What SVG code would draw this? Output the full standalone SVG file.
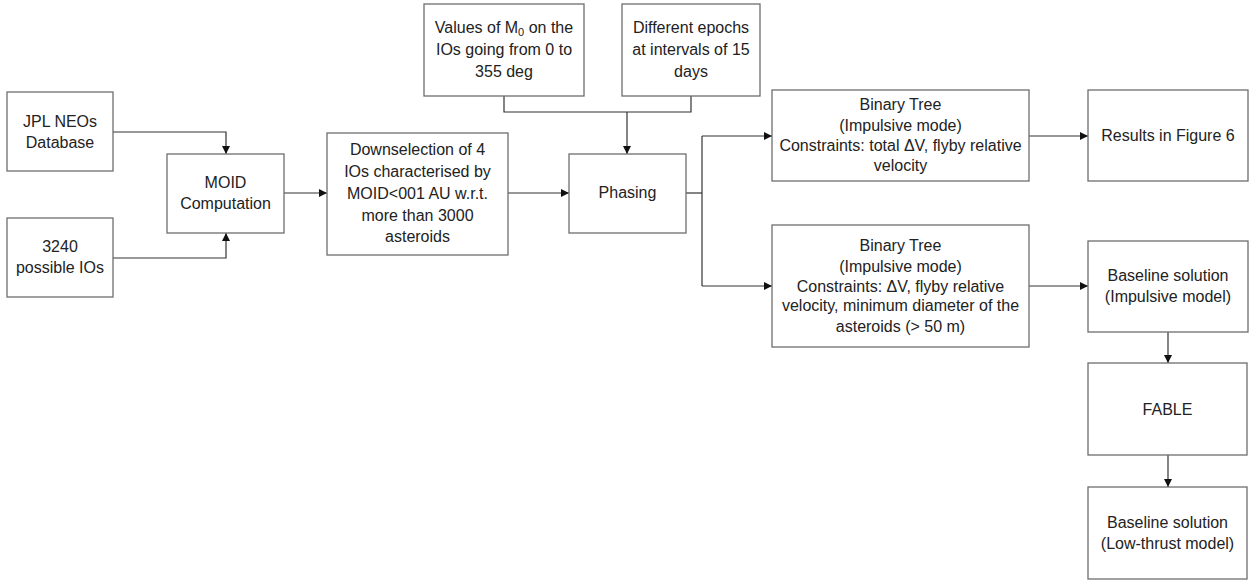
<svg xmlns="http://www.w3.org/2000/svg" width="1252" height="581" viewBox="0 0 1252 581">
<style>
.box{fill:#fff;stroke:#6e6e6e;stroke-width:1.3}
.t{font-family:"Liberation Sans",Arial,sans-serif;font-size:16px;fill:#222;text-anchor:middle}
.c{fill:none;stroke:#333;stroke-width:1.2}
</style>
<defs>
<marker id="ah" viewBox="0 0 10 10" refX="10" refY="5" markerWidth="8" markerHeight="8" markerUnits="userSpaceOnUse" orient="auto">
<path d="M0,0 L10,5 L0,10 Z" fill="#111"/>
</marker>
</defs>
<rect width="1252" height="581" fill="#fff"/>
<g id="connectors">
<path class="c" d="M113,132 H226 V154" marker-end="url(#ah)"/>
<path class="c" d="M113,258 H226 V233" marker-end="url(#ah)"/>
<path class="c" d="M284,193 H327" marker-end="url(#ah)"/>
<path class="c" d="M508,193 H569" marker-end="url(#ah)"/>
<path class="c" d="M504,96 V112 H691 V96"/>
<path class="c" d="M627,112 V154" marker-end="url(#ah)"/>
<path class="c" d="M686,193 H702"/>
<path class="c" d="M702,136 V286"/>
<path class="c" d="M702,136 H772" marker-end="url(#ah)"/>
<path class="c" d="M702,286 H772" marker-end="url(#ah)"/>
<path class="c" d="M1029,136 H1088" marker-end="url(#ah)"/>
<path class="c" d="M1029,286 H1088" marker-end="url(#ah)"/>
<path class="c" d="M1168,332 V363" marker-end="url(#ah)"/>
<path class="c" d="M1168,455 V487" marker-end="url(#ah)"/>
</g>
<g id="jpl">
<rect class="box" x="7" y="92" width="106" height="79"/>
<text class="t" x="60" y="127">JPL NEOs</text>
<text class="t" x="60" y="148">Database</text>
</g>
<g id="ios3240">
<rect class="box" x="7" y="218" width="106" height="79"/>
<text class="t" x="60" y="252">3240</text>
<text class="t" x="60" y="273">possible IOs</text>
</g>
<g id="moid">
<rect class="box" x="167" y="154" width="117" height="79"/>
<text class="t" x="225.5" y="188">MOID</text>
<text class="t" x="225.5" y="209">Computation</text>
</g>
<g id="downselection">
<rect class="box" x="327" y="133" width="181" height="122"/>
<text class="t" x="417.5" y="155">Downselection of 4</text>
<text class="t" x="417.5" y="177">IOs characterised by</text>
<text class="t" x="417.5" y="199">MOID&lt;001 AU w.r.t.</text>
<text class="t" x="417.5" y="221">more than 3000</text>
<text class="t" x="417.5" y="242">asteroids</text>
</g>
<g id="values">
<rect class="box" x="424" y="4" width="160" height="92"/>
<text class="t" x="504" y="33">Values of M<tspan font-size="11" dy="3">0</tspan><tspan dy="-3"> on the</tspan></text>
<text class="t" x="504" y="55">IOs going from 0 to</text>
<text class="t" x="504" y="77">355 deg</text>
</g>
<g id="epochs">
<rect class="box" x="622" y="4" width="138" height="92"/>
<text class="t" x="691" y="33">Different epochs</text>
<text class="t" x="691" y="55">at intervals of 15</text>
<text class="t" x="691" y="77">days</text>
</g>
<g id="phasing">
<rect class="box" x="569" y="154" width="117" height="79"/>
<text class="t" x="627.5" y="198">Phasing</text>
</g>
<g id="bt1">
<rect class="box" x="772" y="90" width="257" height="91"/>
<text class="t" x="900.5" y="110">Binary Tree</text>
<text class="t" x="900.5" y="131">(Impulsive mode)</text>
<text class="t" x="900.5" y="151">Constraints: total ΔV, flyby relative</text>
<text class="t" x="900.5" y="171">velocity</text>
</g>
<g id="results">
<rect class="box" x="1088" y="90" width="160" height="91"/>
<text class="t" x="1168" y="141">Results in Figure 6</text>
</g>
<g id="bt2">
<rect class="box" x="772" y="225" width="257" height="122"/>
<text class="t" x="900.5" y="251">Binary Tree</text>
<text class="t" x="900.5" y="272">(Impulsive mode)</text>
<text class="t" x="900.5" y="292">Constraints: ΔV, flyby relative</text>
<text class="t" x="900.5" y="311">velocity, minimum diameter of the</text>
<text class="t" x="900.5" y="332">asteroids (&gt; 50 m)</text>
</g>
<g id="baseline1">
<rect class="box" x="1088" y="241" width="160" height="91"/>
<text class="t" x="1168" y="281">Baseline solution</text>
<text class="t" x="1168" y="302">(Impulsive model)</text>
</g>
<g id="fable">
<rect class="box" x="1088" y="363" width="159" height="92"/>
<text class="t" x="1167.5" y="415">FABLE</text>
</g>
<g id="baseline2">
<rect class="box" x="1088" y="487" width="159" height="92"/>
<text class="t" x="1167.5" y="528">Baseline solution</text>
<text class="t" x="1167.5" y="549">(Low-thrust model)</text>
</g>
</svg>
